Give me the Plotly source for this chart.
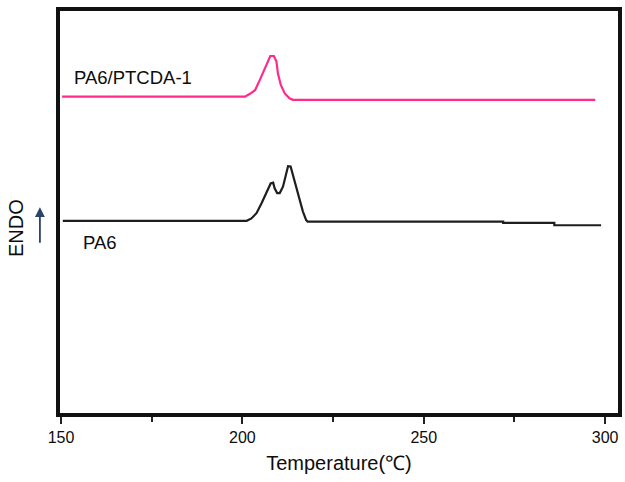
import plotly.graph_objects as go

# DSC heating curves (temperature in °C, heat flow in arbitrary offset units)
ptcda_temp = [150.3, 200.7, 202.1, 203.5, 204.8, 206.2, 207.1, 207.7, 208.7,
              209.4, 209.8, 210.6, 211.7, 213.0, 213.9, 297.3]
ptcda_flow = [7.87, 7.87, 7.94, 8.03, 8.28, 8.57, 8.78, 8.88, 8.88,
              8.74, 8.45, 8.16, 7.95, 7.83, 7.79, 7.79]

pa6_temp = [150.5, 201.2, 202.5, 203.9, 205.3, 206.6, 207.8, 208.5, 208.9,
            209.6, 210.3, 211.2, 212.1, 212.6, 213.3, 213.9, 214.8, 215.8,
            216.7, 217.6, 218.0, 271.9, 271.9, 286.0, 286.0, 298.9]
pa6_flow = [4.78, 4.78, 4.84, 4.97, 5.22, 5.50, 5.71, 5.73, 5.59,
            5.47, 5.47, 5.63, 6.00, 6.14, 6.13, 5.92, 5.63, 5.30,
            5.01, 4.80, 4.76, 4.76, 4.73, 4.73, 4.67, 4.67]

x_ticks = [150, 200, 250, 300]
series_names = ["PA6/PTCDA-1", "PA6"]

fig = go.Figure()
fig.add_trace(go.Scatter(x=ptcda_temp, y=ptcda_flow, mode="lines",
                         line=dict(color="#ff2a8c", width=2.2), name=series_names[0]))
fig.add_trace(go.Scatter(x=pa6_temp, y=pa6_flow, mode="lines",
                         line=dict(color="#1e1e1e", width=2.2), name=series_names[1]))

label_font = dict(family="Liberation Sans, Arial, sans-serif", size=18.5, color="#0d0d0d")
fig.add_annotation(x=153.0, y=8.35, text=series_names[0], showarrow=False,
                   xanchor="left", yanchor="middle", font=label_font)
fig.add_annotation(x=155.6, y=4.23, text=series_names[1], showarrow=False,
                   xanchor="left", yanchor="middle", font=label_font)

# Y-axis caption with the endothermic direction arrow
fig.add_annotation(xref="paper", yref="paper", x=-0.08, y=0.461,
                   xanchor="center", yanchor="middle",
                   text="ENDO", textangle=-90, showarrow=False,
                   font=dict(family="Liberation Sans, Arial, sans-serif", size=20, color="#0d0d0d"))
fig.add_annotation(xref="paper", yref="paper", axref="pixel", ayref="pixel",
                   x=-0.036, y=0.512, ax=0, ay=37, text="",
                   showarrow=True, arrowhead=2, arrowsize=1.1, arrowwidth=1.8,
                   arrowcolor="#2c4468", standoff=0, startstandoff=0)

fig.update_layout(
    width=625, height=482,
    margin=dict(l=60, r=3, t=11, b=69),
    paper_bgcolor="white", plot_bgcolor="white",
    showlegend=False,
    xaxis=dict(
        range=[149.73, 303.56], tickvals=x_ticks, ticktext=[str(v) for v in x_ticks],
        ticks="outside", ticklen=7, tickwidth=2, tickcolor="#222222",
        minor=dict(tickvals=[175, 225, 275], ticks="outside", ticklen=5,
                   tickwidth=2, tickcolor="#222222"),
        showline=True, linewidth=3.5, linecolor="#111111", mirror=True,
        showgrid=False, zeroline=False,
        tickfont=dict(family="Liberation Sans, Arial, sans-serif", size=16, color="#0d0d0d"),
        title=dict(text="Temperature(℃)", standoff=12,
                   font=dict(family="Liberation Sans, Arial, sans-serif", size=20, color="#0d0d0d")),
    ),
    yaxis=dict(
        range=[0, 10], showticklabels=False, ticks="",
        showline=True, linewidth=3.5, linecolor="#111111", mirror=True,
        showgrid=False, zeroline=False,
    ),
)

fig.write_html("out.html")
